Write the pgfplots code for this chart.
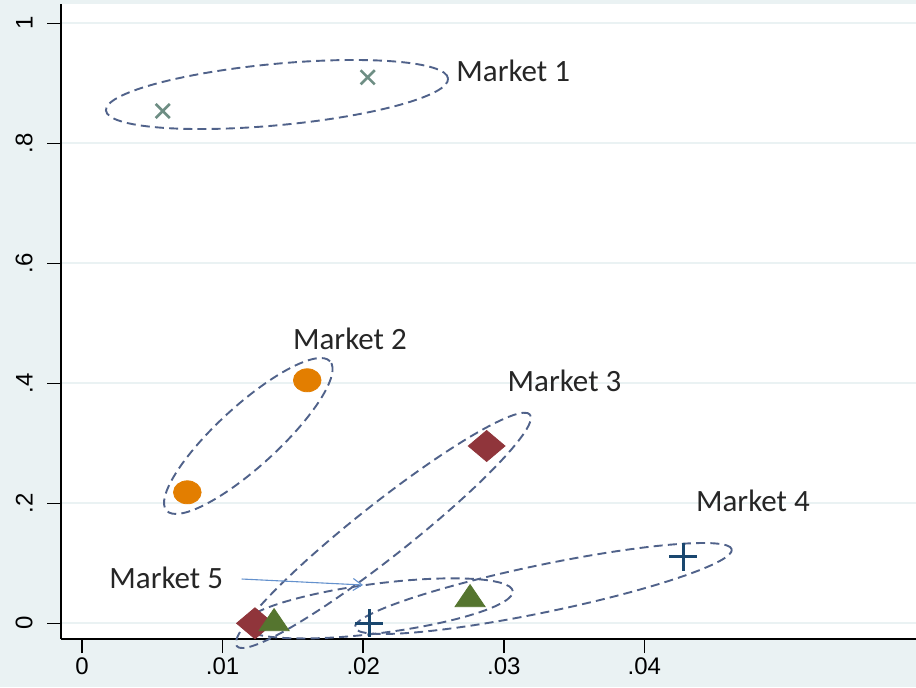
\documentclass[border=0pt]{standalone}
\usepackage{pgfplots}
\pgfplotsset{compat=1.18}
\usepackage{fontspec}
\setmainfont{Liberation Sans}
\newfontfamily\calibri{Carlito}
\usetikzlibrary{arrows.meta}

% Stata s2color palette
\definecolor{stbg}{RGB}{234,242,243}
\definecolor{stnavy}{RGB}{26,71,111}
\definecolor{stmaroon}{RGB}{144,53,59}
\definecolor{stgreen}{RGB}{85,117,47}
\definecolor{storange}{RGB}{227,126,0}
\definecolor{stteal}{RGB}{110,142,132}
\definecolor{ringcol}{RGB}{80,98,138}
\definecolor{arrowcol}{RGB}{100,145,205}

\tikzset{ring/.style={ringcol, line width=0.95bp, dash pattern=on 4.5bp off 2.6bp}}
\newcommand{\mlabel}{\calibri\fontsize{15.5bp}{18bp}\selectfont}

\begin{document}
\begin{tikzpicture}[x=1bp,y=1bp]
\fill[stbg] (0,0) rectangle (458,343.5);
\begin{axis}[
  at={(30.5bp,24bp)}, anchor=south west,
  scale only axis, width=427.5bp, height=317.5bp,
  xmin=-0.001494, xmax=0.05932, ymin=-0.0262, ymax=1.0322,
  scaled x ticks=false, scaled y ticks=false,
  axis x line*=bottom, axis y line*=left,
  axis line style={black, line width=0.9bp},
  axis background/.style={fill=white},
  xtick={0,0.01,0.02,0.03,0.04}, xticklabels={0,.01,.02,.03,.04},
  ytick={0,0.2,0.4,0.6,0.8,1}, yticklabels={0,.2,.4,.6,.8,1},
  tick align=outside, major tick length=7bp,
  tick style={black, line width=0.75bp},
  ymajorgrids, grid style={stbg, line width=1.1bp},
  xticklabel style={font=\fontsize{12bp}{14bp}\selectfont, anchor=north, inner sep=0pt, yshift=-2bp},
  yticklabel style={font=\fontsize{12bp}{14bp}\selectfont, rotate=90, anchor=south, inner sep=0pt, yshift=7bp},
  clip=false,
]
% Market 1
\addplot[only marks, mark=x, mark size=5bp, mark options={stteal, line width=1.3bp}]
  coordinates {(0.00574,0.8538) (0.02032,0.9100)};
% Market 2
\addplot[only marks, mark=*, mark size=6.4bp, mark options={storange, fill=storange, xscale=1.08, yscale=0.9}]
  coordinates {(0.00749,0.2183) (0.01602,0.4050)};
% Market 3
\addplot[only marks, mark=diamond*, mark size=7.75bp, mark options={stmaroon, fill=stmaroon, xscale=1.58}]
  coordinates {(0.01230,0) (0.02878,0.2955)};
% Market 4
\addplot[only marks, mark=+, mark size=7bp, mark options={stnavy, line width=1.5bp}]
  coordinates {(0.02043,0) (0.04275,0.1110)};
% Market 5
\addplot[only marks, mark=triangle*, mark size=8.66bp, mark options={stgreen, fill=stgreen, yscale=0.85}]
  coordinates {(0.01366,0) (0.02760,0.0400)};

% grouping rings
\draw[ring, rotate around={5.35:(axis cs:0.013869,0.88133)}]
  (axis cs:0.013869,0.88133) ellipse [x radius=85.9bp, y radius=15.35bp];
\draw[ring, rotate around={42.4:(axis cs:0.011828,0.3122)}]
  (axis cs:0.011828,0.3122) ellipse [x radius=55.35bp, y radius=15.2bp];
\draw[ring, rotate around={38.3:(axis cs:0.021437,0.15483)}]
  (axis cs:0.021437,0.15483) ellipse [x radius=93.4bp, y radius=13.35bp];
\draw[ring, rotate around={11.73:(axis cs:0.032816,0.058)}]
  (axis cs:0.032816,0.058) ellipse [x radius=96.2bp, y radius=11.85bp];
\draw[ring, rotate around={7.3:(axis cs:0.021045,0.02483)}]
  (axis cs:0.021045,0.02483) ellipse [x radius=68bp, y radius=12.4bp];

% labels
\node[anchor=base west, inner sep=0pt, font=\mlabel, text=black!85] at (axis cs:0.0266,0.9027) {Market 1};
\node[anchor=base west, inner sep=0pt, font=\mlabel, text=black!85] at (axis cs:0.014986,0.4555) {Market 2};
\node[anchor=base west, inner sep=0pt, font=\mlabel, text=black!85] at (axis cs:0.030249,0.386) {Market 3};
\node[anchor=base west, inner sep=0pt, font=\mlabel, text=black!85] at (axis cs:0.043649,0.186) {Market 4};
\node[anchor=base west, inner sep=0pt, font=\mlabel, text=black!85] at (axis cs:0.00192,0.0572) {Market 5};
\draw[arrowcol, line width=0.55bp, -{Straight Barb[length=4.5bp, width=6bp]}]
  (axis cs:0.01136,0.0738) -- (axis cs:0.01999,0.0638);
\end{axis}
\pgfresetboundingbox
\useasboundingbox (0,0) rectangle (458,343.5);
\end{tikzpicture}
\end{document}
